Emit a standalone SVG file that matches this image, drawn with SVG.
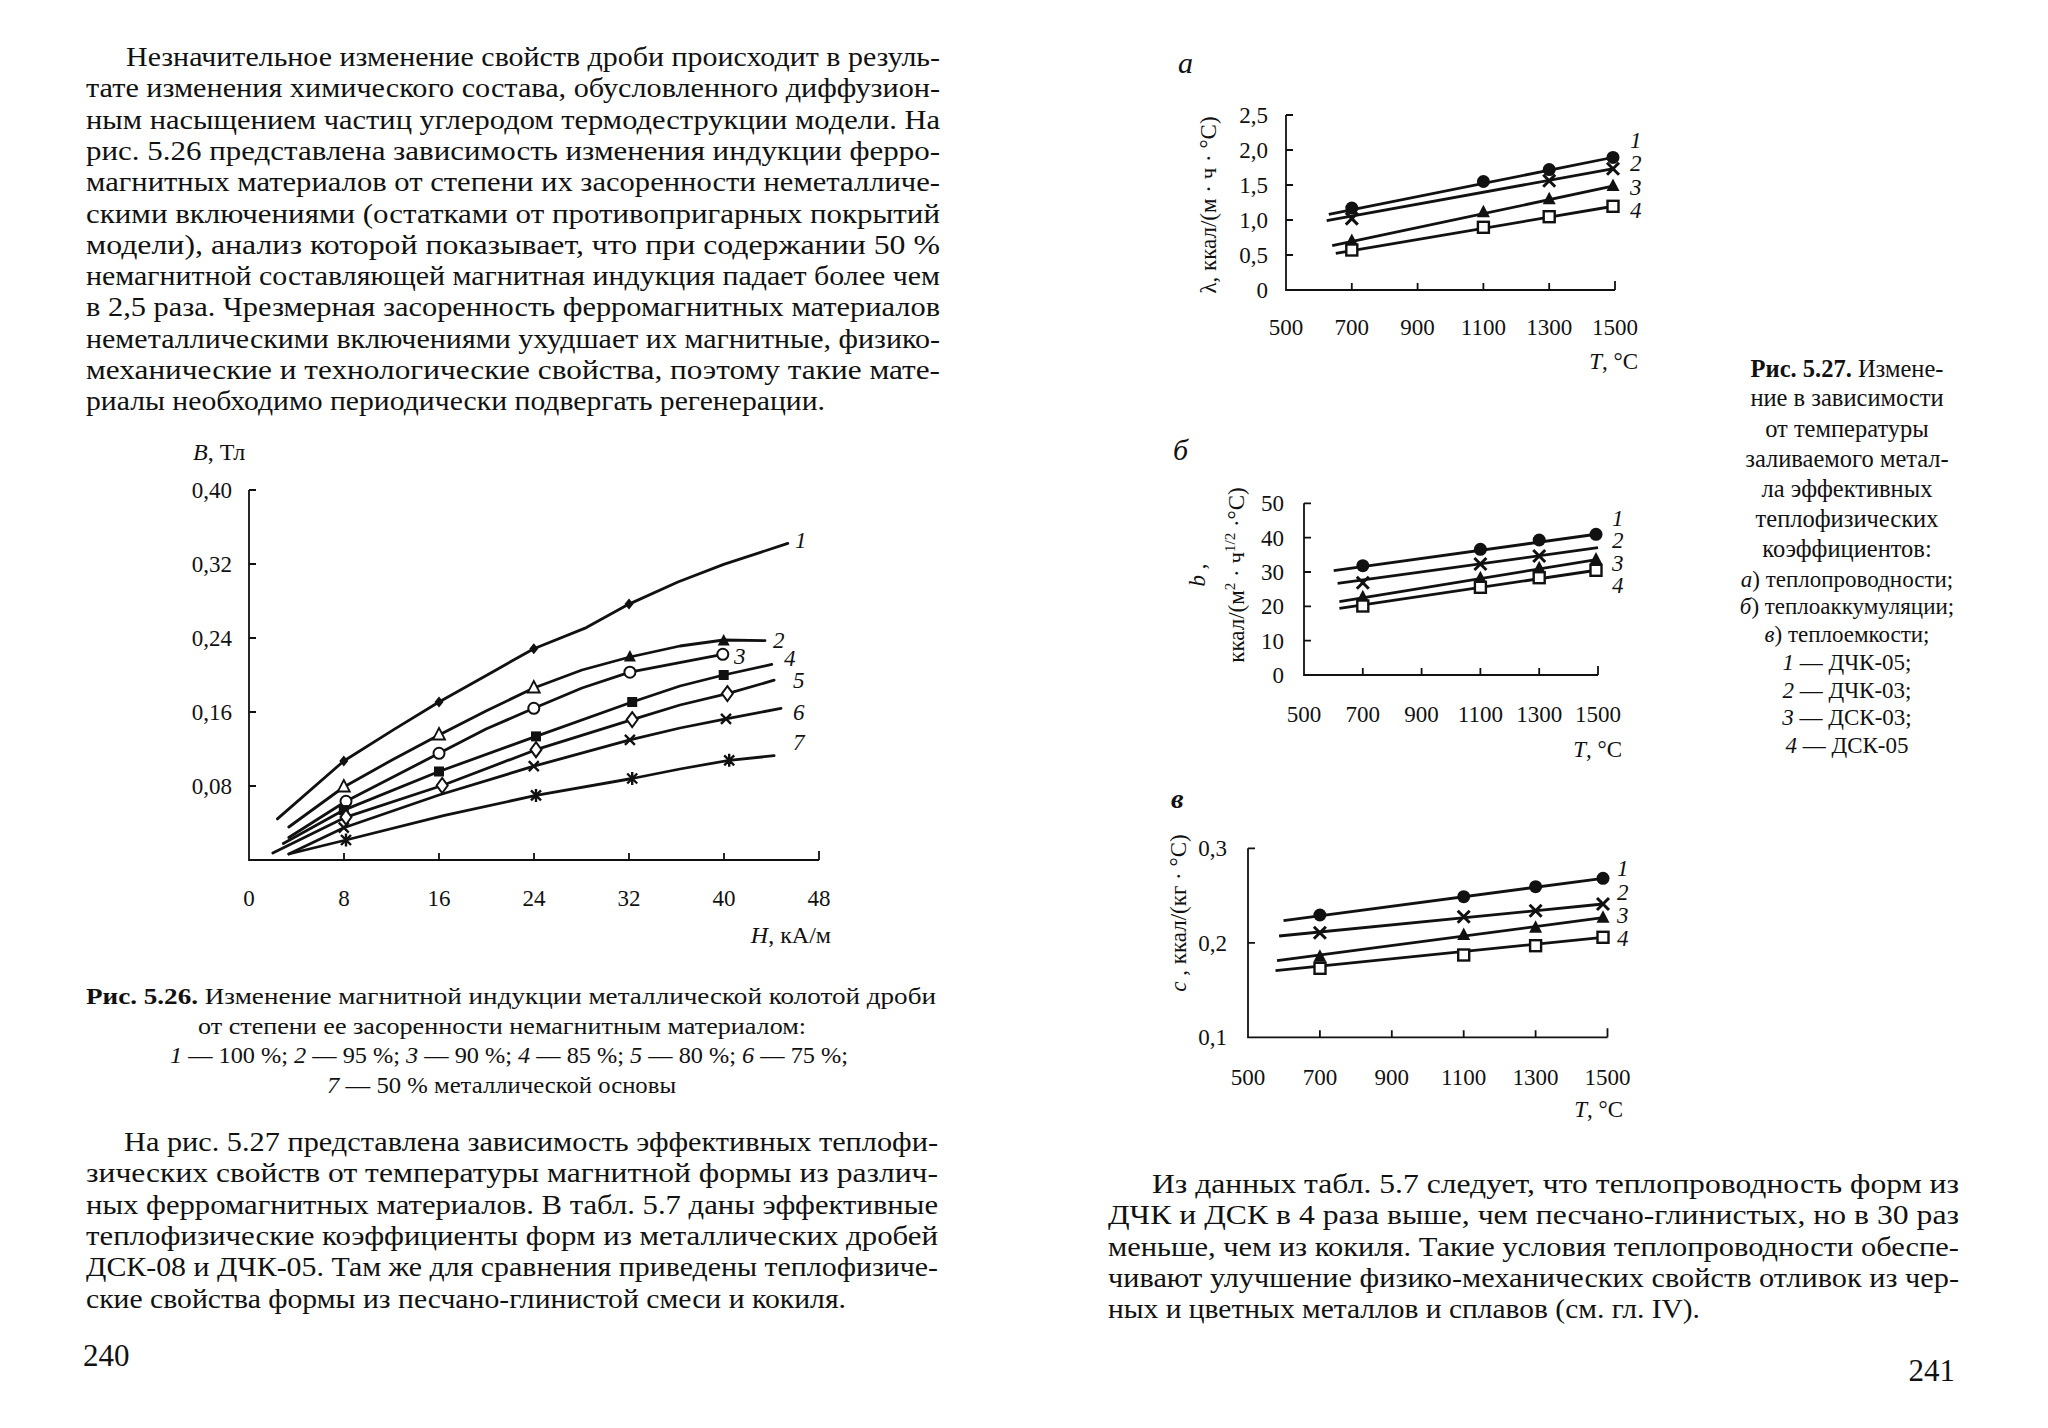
<svg xmlns="http://www.w3.org/2000/svg" xmlns:xlink="http://www.w3.org/1999/xlink" width="2048" height="1428" viewBox="0 0 2048 1428">
<style>
.body{font-family:"Liberation Serif","DejaVu Serif",serif;font-size:27.5px;fill:#111}
.cap{font-family:"Liberation Serif","DejaVu Serif",serif;font-size:23px;fill:#111}
.cap2{font-family:"Liberation Serif","DejaVu Serif",serif;font-size:24.5px;fill:#111}
.cap3{font-family:"Liberation Serif","DejaVu Serif",serif;font-size:23px;fill:#111}
.tick{font-family:"Liberation Serif","DejaVu Serif",serif;font-size:23px;fill:#111}
.it{font-style:italic}
.b{font-weight:bold}
.ax{stroke:#111;stroke-width:1.8;fill:none}
.crv{stroke:#111;stroke-width:2.8;fill:none;stroke-linejoin:round;stroke-linecap:round}
.ln{stroke:#111;stroke-width:2.8;fill:none}
</style>
<defs>
<polygon id="lDiaF" points="0,-5.5 4.5,0 0,5.5 -4.5,0" fill="#111"/>
<polygon id="lTriO" points="0,-7 6,4.5 -6,4.5" fill="#fff" stroke="#111" stroke-width="1.8"/>
<polygon id="lTriF" points="0,-7 6,4.5 -6,4.5" fill="#111"/>
<circle id="lCirO" r="5.5" fill="#fff" stroke="#111" stroke-width="2"/>
<rect id="lSqF" x="-5" y="-5" width="10" height="10" fill="#111"/>
<polygon id="lDiaO" points="0,-7.5 5.5,0 0,7.5 -5.5,0" fill="#fff" stroke="#111" stroke-width="2"/>
<path id="lX" d="M-5,-5L5,5M-5,5L5,-5" stroke="#111" stroke-width="2.4"/>
<path id="lAst" d="M-5,-5L5,5M-5,5L5,-5M0,-6.5V6.5" stroke="#111" stroke-width="2.4"/>
<circle id="rCir" r="6.5" fill="#111"/>
<path id="rX" d="M-6,-6L6,6M-6,6L6,-6" stroke="#111" stroke-width="3"/>
<polygon id="rTri" points="0,-7.5 6.5,5 -6.5,5" fill="#111"/>
<rect id="rSq" x="-5.5" y="-5.5" width="11" height="11" fill="#fff" stroke="#111" stroke-width="2.4"/>
</defs>
<rect width="2048" height="1428" fill="#fff"/>

<g id="text-left-top" class="body">
<text x="126" y="66" textLength="814" lengthAdjust="spacingAndGlyphs">Незначительное изменение свойств дроби происходит в резуль-</text>
<text x="86" y="97.3" textLength="854" lengthAdjust="spacingAndGlyphs">тате изменения химического состава, обусловленного диффузион-</text>
<text x="86" y="128.6" textLength="854" lengthAdjust="spacingAndGlyphs">ным насыщением частиц углеродом термодеструкции модели. На</text>
<text x="86" y="159.9" textLength="854" lengthAdjust="spacingAndGlyphs">рис. 5.26 представлена зависимость изменения индукции ферро-</text>
<text x="86" y="191.2" textLength="854" lengthAdjust="spacingAndGlyphs">магнитных материалов от степени их засоренности неметалличе-</text>
<text x="86" y="222.5" textLength="854" lengthAdjust="spacingAndGlyphs">скими включениями (остатками от противопригарных покрытий</text>
<text x="86" y="253.8" textLength="854" lengthAdjust="spacingAndGlyphs">модели), анализ которой показывает, что при содержании 50 %</text>
<text x="86" y="285.1" textLength="854" lengthAdjust="spacingAndGlyphs">немагнитной составляющей магнитная индукция падает более чем</text>
<text x="86" y="316.4" textLength="854" lengthAdjust="spacingAndGlyphs">в 2,5 раза. Чрезмерная засоренность ферромагнитных материалов</text>
<text x="86" y="347.7" textLength="854" lengthAdjust="spacingAndGlyphs">неметаллическими включениями ухудшает их магнитные, физико-</text>
<text x="86" y="379" textLength="854" lengthAdjust="spacingAndGlyphs">механические и технологические свойства, поэтому такие мате-</text>
<text x="86" y="410.3" textLength="739" lengthAdjust="spacingAndGlyphs">риалы необходимо периодически подвергать регенерации.</text>
</g>

<g id="chart-526">
<g class="ax">
<path d="M249,490V860H819"/>
<path d="M249,490h7M249,564h7M249,638h7M249,712h7M249,786h7"/>
<path d="M344,860v-7M439,860v-7M534,860v-7M629,860v-7M724,860v-7M819,860v-9"/>
</g>
<g class="tick" text-anchor="end">
<text x="232" y="498">0,40</text>
<text x="232" y="572">0,32</text>
<text x="232" y="646">0,24</text>
<text x="232" y="720">0,16</text>
<text x="232" y="794">0,08</text>
</g>
<g class="tick" text-anchor="middle">
<text x="249" y="906">0</text>
<text x="344" y="906">8</text>
<text x="439" y="906">16</text>
<text x="534" y="906">24</text>
<text x="629" y="906">32</text>
<text x="724" y="906">40</text>
<text x="819" y="906">48</text>
</g>
<text class="tick" x="193" y="460" style="font-size:24px"><tspan class="it">B</tspan>, Тл</text>
<text class="tick" x="831" y="943" text-anchor="end" style="font-size:24px"><tspan class="it">H</tspan>, кА/м</text>
<g id="curves-526">
<polyline class="crv" points="277.4,818.9 343.8,761 394.1,729.4 439,702 490.3,673.2 533.8,648.7 586.4,627.6 629,604.1 677.9,582 723.7,564.4 787.8,543.4"/>
<polyline class="crv" points="288.8,827 343.8,787 392,760 439,735 486,711 533.8,688 582,670 629.9,657 680,646 723.7,640 765,640.6"/>
<polyline class="crv" points="288.8,837.5 346,801.3 439,753.3 486,729 533.8,708.3 582,688 629.9,672.2 722.8,654.3"/>
<polyline class="crv" points="283.3,843.5 343.8,810.1 439,771.5 536,736.4 632.2,702 680,686 723.7,675 771.8,664.4"/>
<polyline class="crv" points="272.8,853 346,817.1 442.2,785.5 536,749.7 632.2,719.6 680,705 727.4,693.6 774.1,680.2"/>
<polyline class="crv" points="288.8,854 343.8,827.7 439,795 533.8,766.2 629.9,739.9 680,728 726,718.9 781,708.3"/>
<polyline class="crv" points="288.8,854 346,840 444.5,815.4 536,795.4 632.2,778.5 680,769 729.2,760.3 774.1,755.7"/>
</g>
<g id="markers-526">
<use href="#lDiaF" x="343.8" y="761"/><use href="#lDiaF" x="439" y="702"/><use href="#lDiaF" x="533.8" y="648.7"/><use href="#lDiaF" x="629" y="604.1"/>
<use href="#lTriO" x="343.8" y="787"/><use href="#lTriO" x="439" y="735"/><use href="#lTriO" x="533.8" y="688"/><use href="#lTriF" x="629.9" y="657"/><use href="#lTriF" x="723.7" y="641"/>
<use href="#lCirO" x="346" y="801.3"/><use href="#lCirO" x="439" y="753.3"/><use href="#lCirO" x="533.8" y="708.3"/><use href="#lCirO" x="629.9" y="672.2"/><use href="#lCirO" x="722.8" y="654.3"/>
<use href="#lSqF" x="343.8" y="810.1"/><use href="#lSqF" x="439" y="771.5"/><use href="#lSqF" x="536" y="736.4"/><use href="#lSqF" x="632.2" y="702"/><use href="#lSqF" x="723.7" y="675"/>
<use href="#lDiaO" x="346" y="817.1"/><use href="#lDiaO" x="442.2" y="785.5"/><use href="#lDiaO" x="536" y="749.7"/><use href="#lDiaO" x="632.2" y="719.6"/><use href="#lDiaO" x="727.4" y="693.6"/>
<use href="#lX" x="343.8" y="827.7"/><use href="#lX" x="533.8" y="766.2"/><use href="#lX" x="629.9" y="739.9"/><use href="#lX" x="726" y="718.9"/>
<use href="#lAst" x="346" y="840"/><use href="#lAst" x="536" y="795.4"/><use href="#lAst" x="632.2" y="778.5"/><use href="#lAst" x="729.2" y="760.3"/>
</g>
<g class="tick it">
<text x="795" y="548">1</text>
<text x="773" y="648">2</text>
<text x="734" y="664">3</text>
<text x="784" y="666">4</text>
<text x="793" y="688">5</text>
<text x="793" y="720">6</text>
<text x="793" y="750">7</text>
</g>
</g>

<g id="caption-526" class="cap">
<text x="86" y="1004" textLength="850" lengthAdjust="spacingAndGlyphs"><tspan class="b">Рис. 5.26.</tspan> Изменение магнитной индукции металлической колотой дроби</text>
<text x="198" y="1034" textLength="608" lengthAdjust="spacingAndGlyphs">от степени ее засоренности немагнитным материалом:</text>
<text x="170" y="1063" textLength="678" lengthAdjust="spacingAndGlyphs"><tspan class="it">1</tspan> — 100 %; <tspan class="it">2</tspan> — 95 %; <tspan class="it">3</tspan> — 90 %; <tspan class="it">4</tspan> — 85 %; <tspan class="it">5</tspan> — 80 %; <tspan class="it">6</tspan> — 75 %;</text>
<text x="327" y="1093" textLength="349" lengthAdjust="spacingAndGlyphs"><tspan class="it">7</tspan> — 50 % металлической основы</text>
</g>

<g id="text-left-bottom" class="body">
<text x="124" y="1151" textLength="814" lengthAdjust="spacingAndGlyphs">На рис. 5.27 представлена зависимость эффективных теплофи-</text>
<text x="86" y="1182.3" textLength="852" lengthAdjust="spacingAndGlyphs">зических свойств от температуры магнитной формы из различ-</text>
<text x="86" y="1213.6" textLength="852" lengthAdjust="spacingAndGlyphs">ных ферромагнитных материалов. В табл. 5.7 даны эффективные</text>
<text x="86" y="1244.9" textLength="852" lengthAdjust="spacingAndGlyphs">теплофизические коэффициенты форм из металлических дробей</text>
<text x="86" y="1276.2" textLength="852" lengthAdjust="spacingAndGlyphs">ДСК-08 и ДЧК-05. Там же для сравнения приведены теплофизиче-</text>
<text x="86" y="1307.5" textLength="760" lengthAdjust="spacingAndGlyphs">ские свойства формы из песчано-глинистой смеси и кокиля.</text>
</g>
<text id="page-240" class="body" x="83" y="1366" style="font-size:31px">240</text>

<g id="chart-a">
<text class="body it" x="1178" y="73" style="font-size:30px">а</text>
<g class="ax">
<path d="M1286,115V290H1615"/>
<path d="M1286,115h7M1286,150h7M1286,185h7M1286,220h7M1286,255h7"/>
<path d="M1351.8,290v-7M1417.6,290v-7M1483.4,290v-7M1549.2,290v-7M1615,290v-9"/>
</g>
<g class="tick" text-anchor="end">
<text x="1268" y="123">2,5</text>
<text x="1268" y="158">2,0</text>
<text x="1268" y="193">1,5</text>
<text x="1268" y="228">1,0</text>
<text x="1268" y="263">0,5</text>
<text x="1268" y="298">0</text>
</g>
<g class="tick" text-anchor="middle">
<text x="1286" y="335">500</text>
<text x="1351.8" y="335">700</text>
<text x="1417.6" y="335">900</text>
<text x="1483.4" y="335">1100</text>
<text x="1549.2" y="335">1300</text>
<text x="1615" y="335">1500</text>
</g>
<text class="tick" x="1638" y="369" text-anchor="end"><tspan class="it">T</tspan>, °C</text>
<text class="tick" transform="translate(1216,205) rotate(-90)" text-anchor="middle">λ, ккал/(м · ч · °С)</text>
<g class="ln">
<path d="M1328.8,214.4L1615,157"/>
<path d="M1326.7,220.7L1615,168.3"/>
<path d="M1332.2,245.7L1615,185.7"/>
<path d="M1335.8,253.3L1615,206"/>
</g>
<use href="#rCir" x="1351.8" y="208.1"/><use href="#rCir" x="1483.4" y="181.5"/><use href="#rCir" x="1549.2" y="169.6"/><use href="#rCir" x="1613" y="157.4"/>
<use href="#rX" x="1351.8" y="218.6"/><use href="#rX" x="1549.2" y="180.8"/><use href="#rX" x="1613" y="168.7"/>
<use href="#rTri" x="1351.8" y="241"/><use href="#rTri" x="1483.4" y="212.3"/><use href="#rTri" x="1549.2" y="199.3"/><use href="#rTri" x="1613" y="186.1"/>
<use href="#rSq" x="1351.8" y="250"/><use href="#rSq" x="1483.4" y="227.3"/><use href="#rSq" x="1549.2" y="216.7"/><use href="#rSq" x="1613" y="206.3"/>
<g class="tick it">
<text x="1630" y="148">1</text>
<text x="1630" y="171">2</text>
<text x="1630" y="195">3</text>
<text x="1630" y="218">4</text>
</g>
</g>

<g id="chart-b">
<text class="body it" x="1173" y="460" style="font-size:30px">б</text>
<g class="ax">
<path d="M1304,503.3V675H1598"/>
<path d="M1304,503.3h7M1304,537.7h7M1304,572h7M1304,606.3h7M1304,640.7h7"/>
<path d="M1362.8,675v-7M1421.6,675v-7M1480.4,675v-7M1539.2,675v-7M1598,675v-9"/>
</g>
<g class="tick" text-anchor="end">
<text x="1284" y="511">50</text>
<text x="1284" y="546">40</text>
<text x="1284" y="580">30</text>
<text x="1284" y="614">20</text>
<text x="1284" y="649">10</text>
<text x="1284" y="683">0</text>
</g>
<g class="tick" text-anchor="middle">
<text x="1304" y="722">500</text>
<text x="1362.8" y="722">700</text>
<text x="1421.6" y="722">900</text>
<text x="1480.4" y="722">1100</text>
<text x="1539.2" y="722">1300</text>
<text x="1598" y="722">1500</text>
</g>
<text class="tick" x="1622" y="757" text-anchor="end"><tspan class="it">T</tspan>, °C</text>
<text class="tick" transform="translate(1205,575) rotate(-90)" text-anchor="middle"><tspan class="it">b</tspan> ,</text>
<text class="tick" transform="translate(1244,575) rotate(-90)" text-anchor="middle">ккал/(м<tspan dy="-9" style="font-size:15px">2</tspan><tspan dy="9"> · ч</tspan><tspan dy="-9" style="font-size:15px">1/2</tspan><tspan dy="9"> ·°С)</tspan></text>
<g class="ln">
<path d="M1333.7,570.7L1598,534"/>
<path d="M1337.6,583.3L1598,547.7"/>
<path d="M1339.4,601.7L1598,559.3"/>
<path d="M1339.4,608.3L1598,570"/>
</g>
<use href="#rCir" x="1362.8" y="565.7"/><use href="#rCir" x="1480.4" y="549.3"/><use href="#rCir" x="1539.2" y="540"/><use href="#rCir" x="1596" y="534.3"/>
<use href="#rX" x="1362.8" y="582.7"/><use href="#rX" x="1480.4" y="564"/><use href="#rX" x="1539.2" y="556"/>
<use href="#rTri" x="1362.8" y="597.3"/><use href="#rTri" x="1480.4" y="578.3"/><use href="#rTri" x="1539.2" y="568.3"/><use href="#rTri" x="1596" y="559.6"/>
<use href="#rSq" x="1362.8" y="606"/><use href="#rSq" x="1480.4" y="587.3"/><use href="#rSq" x="1539.2" y="577.7"/><use href="#rSq" x="1596" y="570.3"/>
<g class="tick it">
<text x="1612" y="526">1</text>
<text x="1612" y="548">2</text>
<text x="1612" y="571">3</text>
<text x="1612" y="593">4</text>
</g>
</g>

<g id="chart-c">
<text class="body it b" x="1171" y="808" style="font-size:28px">в</text>
<g class="ax">
<path d="M1248,848.3V1037.3H1607.5"/>
<path d="M1248,848.3h7M1248,942.8h7"/>
<path d="M1319.9,1037.3v-7M1391.8,1037.3v-7M1463.7,1037.3v-7M1535.6,1037.3v-7M1607.5,1037.3v-9"/>
</g>
<g class="tick" text-anchor="end">
<text x="1227" y="856">0,3</text>
<text x="1227" y="951">0,2</text>
<text x="1227" y="1045">0,1</text>
</g>
<g class="tick" text-anchor="middle">
<text x="1248" y="1085">500</text>
<text x="1319.9" y="1085">700</text>
<text x="1391.8" y="1085">900</text>
<text x="1463.7" y="1085">1100</text>
<text x="1535.6" y="1085">1300</text>
<text x="1607.5" y="1085">1500</text>
</g>
<text class="tick" x="1623" y="1117" text-anchor="end"><tspan class="it">T</tspan>, °C</text>
<text class="tick" transform="translate(1186,913) rotate(-90)" text-anchor="middle"><tspan class="it">с</tspan> , ккал/(кг · °С)</text>
<g class="ln">
<path d="M1283.5,920.7L1603,878.3"/>
<path d="M1279.1,936L1603,904"/>
<path d="M1277,960.7L1603,917.7"/>
<path d="M1275.5,970.7L1603,937.3"/>
</g>
<use href="#rCir" x="1319.9" y="915"/><use href="#rCir" x="1463.7" y="896.7"/><use href="#rCir" x="1535.6" y="886.7"/><use href="#rCir" x="1603" y="878.3"/>
<use href="#rX" x="1319.9" y="932.7"/><use href="#rX" x="1463.7" y="916.7"/><use href="#rX" x="1535.6" y="910.7"/><use href="#rX" x="1603" y="904"/>
<use href="#rTri" x="1319.9" y="956.7"/><use href="#rTri" x="1463.7" y="935"/><use href="#rTri" x="1535.6" y="927.7"/><use href="#rTri" x="1603" y="917.7"/>
<use href="#rSq" x="1320" y="968.3"/><use href="#rSq" x="1463.7" y="955"/><use href="#rSq" x="1535.6" y="945.7"/><use href="#rSq" x="1603" y="937.3"/>
<g class="tick it">
<text x="1617" y="876">1</text>
<text x="1617" y="900">2</text>
<text x="1617" y="923">3</text>
<text x="1617" y="946">4</text>
</g>
</g>

<g id="caption-527" text-anchor="middle">
<g class="cap2">
<text x="1847" y="377"><tspan class="b">Рис. 5.27.</tspan> Измене-</text>
<text x="1847" y="406">ние в зависимости</text>
<text x="1847" y="436.5">от температуры</text>
<text x="1847" y="466.5">заливаемого метал-</text>
<text x="1847" y="496.5">ла эффективных</text>
<text x="1847" y="526.5">теплофизических</text>
<text x="1847" y="556.5">коэффициентов:</text>
</g>
<g class="cap3">
<text x="1847" y="586.5"><tspan class="it">а</tspan>) теплопроводности;</text>
<text x="1847" y="614">
<tspan class="it">б</tspan>) теплоаккумуляции;</text>
<text x="1847" y="641.5"><tspan class="it">в</tspan>) теплоемкости;</text>
<text x="1847" y="670"><tspan class="it">1</tspan> — ДЧК-05;</text>
<text x="1847" y="697.5"><tspan class="it">2</tspan> — ДЧК-03;</text>
<text x="1847" y="725"><tspan class="it">3</tspan> — ДСК-03;</text>
<text x="1847" y="752.5"><tspan class="it">4</tspan> — ДСК-05</text>
</g>
</g>

<g id="text-right-bottom" class="body">
<text x="1152" y="1193" textLength="807" lengthAdjust="spacingAndGlyphs">Из данных табл. 5.7 следует, что теплопроводность форм из</text>
<text x="1108" y="1224.3" textLength="851" lengthAdjust="spacingAndGlyphs">ДЧК и ДСК в 4 раза выше, чем песчано-глинистых, но в 30 раз</text>
<text x="1108" y="1255.6" textLength="851" lengthAdjust="spacingAndGlyphs">меньше, чем из кокиля. Такие условия теплопроводности обеспе-</text>
<text x="1108" y="1286.9" textLength="851" lengthAdjust="spacingAndGlyphs">чивают улучшение физико-механических свойств отливок из чер-</text>
<text x="1108" y="1318.2" textLength="592" lengthAdjust="spacingAndGlyphs">ных и цветных металлов и сплавов (см. гл. IV).</text>
</g>
<text id="page-241" class="body" x="1955" y="1381" text-anchor="end" style="font-size:31px">241</text>
</svg>
